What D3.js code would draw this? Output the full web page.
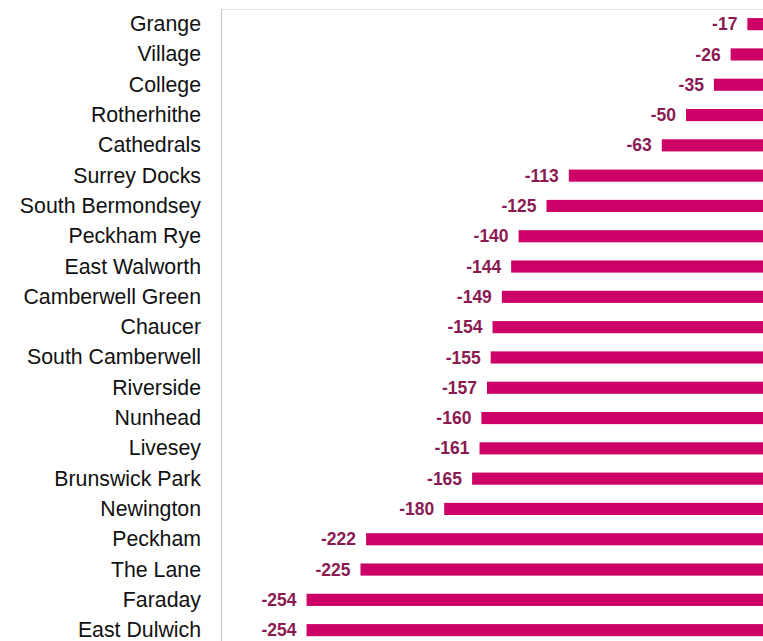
<!DOCTYPE html>
<html>
<head>
<meta charset="utf-8">
<script src="https://cdn.jsdelivr.net/npm/d3@7"></script>
<style>
  html, body { margin: 0; padding: 0; background: #fff; overflow: hidden; }
  svg { display: block; font-family: "Liberation Sans", Arial, sans-serif; }
</style>
</head>
<body>
<div id="chart"><svg width="763" height="641"></svg></div>
<script>
const wards = ['Grange', 'Village', 'College', 'Rotherhithe', 'Cathedrals', 'Surrey Docks',
  'South Bermondsey', 'Peckham Rye', 'East Walworth', 'Camberwell Green', 'Chaucer',
  'South Camberwell', 'Riverside', 'Nunhead', 'Livesey', 'Brunswick Park', 'Newington',
  'Peckham', 'The Lane', 'Faraday', 'East Dulwich']
const change = [-17, -26, -35, -50, -63, -113, -125, -140, -144, -149, -154,
  -155, -157, -160, -161, -165, -180, -222, -225, -254, -254]
const xDomain = [-300, 0]

const margin = {top: 9, left: 221}
const plotRight = 779   // zero line sits just past the visible edge
const step = 30.3

const svg = d3.select('#chart svg')

const x = d3.scaleLinear()
  .domain(xDomain)
  .range([margin.left, plotRight])

const y = d3.scaleBand()
  .domain(wards)
  .range([margin.top, margin.top + step * wards.length])
  .paddingInner(0.6)
  .paddingOuter(0.3)

// frame lines
svg.append('line')
  .attr('x1', margin.left).attr('x2', 763)
  .attr('y1', margin.top + 0.5).attr('y2', margin.top + 0.5)
  .attr('stroke', '#e6e6e6')
svg.append('line')
  .attr('x1', margin.left + 0.5).attr('x2', margin.left + 0.5)
  .attr('y1', margin.top).attr('y2', 641)
  .attr('stroke', '#c6c6c6')

const rows = wards.map((w, i) => ({ward: w, value: change[i]}))

svg.append('g')
  .selectAll('rect')
  .data(rows)
  .join('rect')
  .attr('x', d => x(d.value))
  .attr('y', d => y(d.ward))
  .attr('width', d => x(0) - x(d.value))
  .attr('height', y.bandwidth())
  .attr('fill', '#cc0066')

svg.append('g')
  .selectAll('text')
  .data(rows)
  .join('text')
  .attr('x', d => x(d.value) - 10)
  .attr('y', d => y(d.ward) + y.bandwidth() / 2)
  .attr('dy', '0.35em')
  .attr('text-anchor', 'end')
  .attr('font-size', 17.5)
  .attr('font-weight', 'bold')
  .attr('fill', '#8a1a52')
  .text(d => d.value)

svg.append('g')
  .selectAll('text')
  .data(rows)
  .join('text')
  .attr('x', margin.left - 20)
  .attr('y', d => y(d.ward) + y.bandwidth() / 2)
  .attr('dy', '0.33em')
  .attr('text-anchor', 'end')
  .attr('font-size', 21.3)
  .attr('fill', '#111')
  .text(d => d.ward)
</script>
</body>
</html>
